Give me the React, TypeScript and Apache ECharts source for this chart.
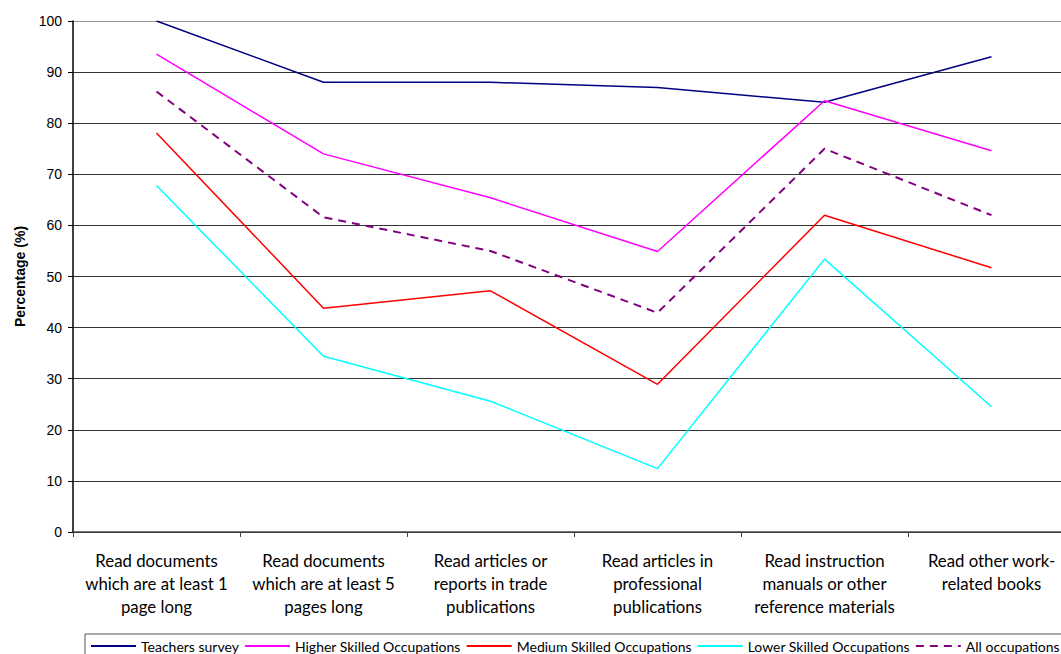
import React, { useEffect, useRef } from "react";
import * as echarts from "echarts";

const categories = [
  "Read documents\nwhich are at least 1\npage long",
  "Read documents\nwhich are at least 5\npages long",
  "Read articles or\nreports in trade\npublications",
  "Read articles in\nprofessional\npublications",
  "Read instruction\nmanuals or other\nreference materials",
  "Read other work-\nrelated books",
];

const yTicks = { min: 0, max: 100, interval: 10 };

const teachersSurvey = [100, 88.0, 88.0, 87.0, 84.1, 93.0];
const higherSkilled = [93.5, 74.0, 65.4, 54.9, 84.4, 74.6];
const mediumSkilled = [78.1, 43.8, 47.2, 28.9, 62.0, 51.7];
const lowerSkilled = [67.8, 34.4, 25.6, 12.4, 53.4, 24.5];
const allOccupations = [86.2, 61.6, 55.0, 42.9, 75.0, 62.0];

const seriesDefs = [
  { name: "Teachers survey", data: teachersSurvey, color: "#000080", dashed: false },
  { name: "Higher Skilled Occupations", data: higherSkilled, color: "#FF00FF", dashed: false },
  { name: "Medium Skilled Occupations", data: mediumSkilled, color: "#FF0000", dashed: false },
  { name: "Lower Skilled Occupations", data: lowerSkilled, color: "#00FFFF", dashed: false },
  { name: "All occupations", data: allOccupations, color: "#800080", dashed: true },
];

export default function App() {
  const ref = useRef<HTMLDivElement>(null);

  useEffect(() => {
    if (!ref.current) return;
    const chart = echarts.init(ref.current, null, { renderer: "svg" });
    const gridColors = [
      "#333", "#333", "#333", "#333", "#333", "#333", "#333", "#333", "#333", "#333", "#999",
    ];
    chart.setOption({
      animation: false,
      backgroundColor: "#ffffff",
      grid: {
        left: 73,
        top: 21,
        width: 1002,
        height: 511,
        containLabel: false,
        outerBoundsMode: "none",
      },
      legend: {
        left: 85,
        top: 634,
        width: 990,
        padding: [5, 4, 8, 5],
        itemWidth: 45,
        itemHeight: 10,
        itemGap: 5,
        borderColor: "#555",
        borderWidth: 1,
        itemStyle: { opacity: 0 },
        textStyle: { fontFamily: "Lato", fontSize: 14, color: "#000" },
        data: seriesDefs.map((s) => s.name),
      },
      xAxis: {
        type: "category",
        data: categories,
        boundaryGap: true,
        axisLine: { lineStyle: { color: "#444", width: 1.5 } },
        axisTick: { show: true, length: 5, lineStyle: { color: "#444" } },
        axisLabel: {
          interval: 0,
          margin: 17,
          fontFamily: "Lato",
          fontSize: 16.8,
          lineHeight: 23,
          color: "#000",
        },
        splitLine: { show: false },
      },
      yAxis: {
        type: "value",
        min: yTicks.min,
        max: yTicks.max,
        interval: yTicks.interval,
        name: "Percentage (%)",
        nameLocation: "middle",
        nameGap: 46,
        nameTextStyle: {
          fontFamily: "Liberation Sans",
          fontSize: 14,
          fontWeight: "bold",
          color: "#000",
        },
        axisLine: { show: true, lineStyle: { color: "#000", width: 1.5 } },
        axisTick: { show: true, length: 5, lineStyle: { color: "#000" } },
        axisLabel: {
          margin: 11,
          fontFamily: "Liberation Sans",
          fontSize: 14,
          color: "#000",
        },
        splitLine: { show: true, lineStyle: { color: gridColors, width: 1 } },
      },
      series: seriesDefs.map((s) => ({
        name: s.name,
        type: "line",
        data: s.data,
        symbol: "none",
        showSymbol: false,
        color: s.color,
        lineStyle: {
          color: s.color,
          width: s.dashed ? 2 : 1.5,
          type: s.dashed ? [8, 6] : "solid",
        },
      })),
    });
    return () => chart.dispose();
  }, []);

  return (
    <div
      ref={ref}
      style={{ position: "fixed", left: 0, top: 0, width: 1061, height: 654, background: "#fff" }}
    />
  );
}
